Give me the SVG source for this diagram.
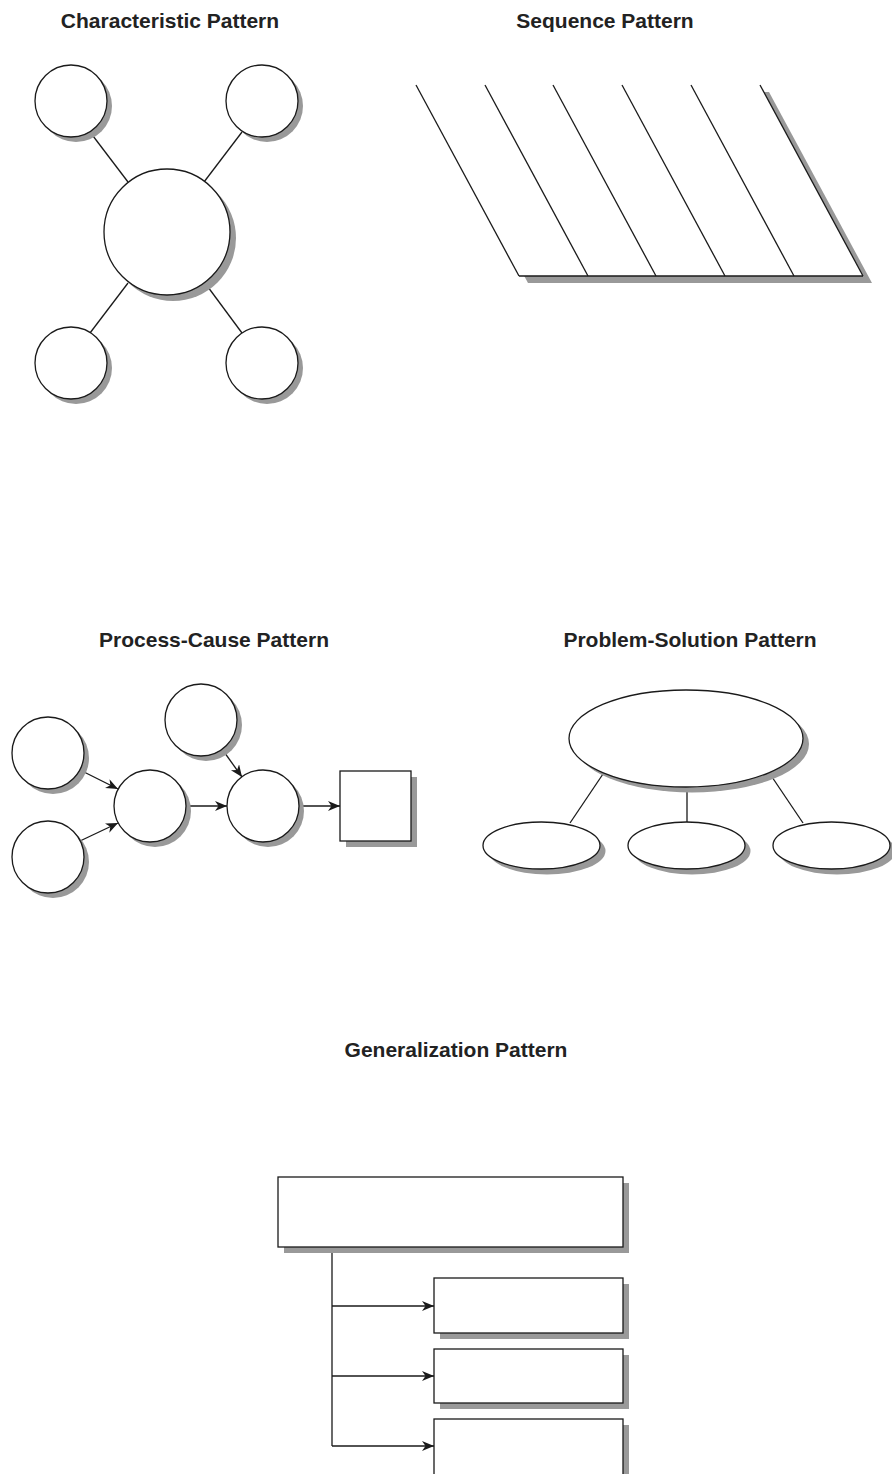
<svg xmlns="http://www.w3.org/2000/svg" width="892" height="1474" viewBox="0 0 892 1474">
  <style>
    .title { font-family: "Liberation Sans", Arial, sans-serif; font-weight: bold; font-size: 21px; fill: #222; text-anchor: middle; }
    .shape { fill: #fff; stroke: #1a1a1a; stroke-width: 1.3; }
    .shadow { fill: #999; stroke: none; }
    .link { fill: none; stroke: #1a1a1a; stroke-width: 1.3; }
    .arrow { fill: none; stroke: #1a1a1a; stroke-width: 1.3; marker-end: url(#head); }
  </style>
  <defs>
    <marker id="head" markerUnits="userSpaceOnUse" markerWidth="14" markerHeight="12" refX="12" refY="5" orient="auto">
      <path d="M0,0 L12,5 L0,10 L3.5,5 z" fill="#1a1a1a"/>
    </marker>
  </defs>

  <rect width="892" height="1474" fill="#fff"/>

  <!-- titles -->
  <text class="title" x="170" y="28">Characteristic Pattern</text>
  <text class="title" x="605" y="28">Sequence Pattern</text>
  <text class="title" x="214" y="647">Process-Cause Pattern</text>
  <text class="title" x="690" y="647">Problem-Solution Pattern</text>
  <text class="title" x="456" y="1057">Generalization Pattern</text>

  <!-- connectors -->
  <g id="connectors">
    <!-- characteristic spokes -->
    <line class="link" x1="90" y1="132" x2="128" y2="182"/>
    <line class="link" x1="242" y1="132" x2="204" y2="182"/>
    <line class="link" x1="128" y1="283" x2="90" y2="333"/>
    <line class="link" x1="205" y1="283" x2="242" y2="333"/>
    <!-- process-cause arrows -->
    <line class="arrow" x1="80" y1="770" x2="118" y2="789"/>
    <line class="arrow" x1="80" y1="841" x2="118" y2="823"/>
    <line class="arrow" x1="186" y1="806" x2="227" y2="806"/>
    <line class="arrow" x1="222" y1="749" x2="242" y2="777"/>
    <line class="arrow" x1="299" y1="806" x2="340" y2="806"/>
    <!-- problem-solution links -->
    <line class="link" x1="603" y1="774" x2="570" y2="823"/>
    <line class="link" x1="687" y1="787" x2="687" y2="822"/>
    <line class="link" x1="770" y1="774" x2="803" y2="823"/>
    <!-- generalization tree -->
    <polyline class="link" points="332,1247 332,1446"/>
    <line class="arrow" x1="332" y1="1306" x2="434" y2="1306"/>
    <line class="arrow" x1="332" y1="1376" x2="434" y2="1376"/>
    <line class="arrow" x1="332" y1="1446" x2="434" y2="1446"/>
  </g>

  <!-- characteristic pattern -->
  <g id="char-center">
    <circle class="shadow" cx="173" cy="238" r="63"/>
    <circle class="shape" cx="167" cy="232" r="63"/>
  </g>
  <g id="char-top-left">
    <circle class="shadow" cx="76" cy="106" r="36"/>
    <circle class="shape" cx="71" cy="101" r="36"/>
  </g>
  <g id="char-top-right">
    <circle class="shadow" cx="267" cy="106" r="36"/>
    <circle class="shape" cx="262" cy="101" r="36"/>
  </g>
  <g id="char-bottom-left">
    <circle class="shadow" cx="76" cy="368" r="36"/>
    <circle class="shape" cx="71" cy="363" r="36"/>
  </g>
  <g id="char-bottom-right">
    <circle class="shadow" cx="267" cy="368" r="36"/>
    <circle class="shape" cx="262" cy="363" r="36"/>
  </g>

  <!-- sequence pattern -->
  <g id="sequence">
    <polygon class="shadow" points="425,92 769,92 872,283 528,283"/>
    <polygon points="416,85 760,85 863,276 519,276" fill="#fff"/>
    <line class="link" x1="416" y1="85" x2="519" y2="276"/>
    <line class="link" x1="485" y1="85" x2="588" y2="276"/>
    <line class="link" x1="553" y1="85" x2="656" y2="276"/>
    <line class="link" x1="622" y1="85" x2="725" y2="276"/>
    <line class="link" x1="691" y1="85" x2="794" y2="276"/>
    <line class="link" x1="760" y1="85" x2="863" y2="276"/>
    <line class="link" x1="519" y1="276" x2="863" y2="276"/>
  </g>

  <!-- process-cause pattern -->
  <g id="cause-a">
    <circle class="shadow" cx="53" cy="758" r="36"/>
    <circle class="shape" cx="48" cy="753" r="36"/>
  </g>
  <g id="cause-b">
    <circle class="shadow" cx="53" cy="862" r="36"/>
    <circle class="shape" cx="48" cy="857" r="36"/>
  </g>
  <g id="process-1">
    <circle class="shadow" cx="155" cy="811" r="36"/>
    <circle class="shape" cx="150" cy="806" r="36"/>
  </g>
  <g id="cause-c">
    <circle class="shadow" cx="206" cy="725" r="36"/>
    <circle class="shape" cx="201" cy="720" r="36"/>
  </g>
  <g id="process-2">
    <circle class="shadow" cx="268" cy="811" r="36"/>
    <circle class="shape" cx="263" cy="806" r="36"/>
  </g>
  <g id="result">
    <rect class="shadow" x="346" y="777" width="71" height="70"/>
    <rect class="shape" x="340" y="771" width="71" height="70"/>
  </g>

  <!-- problem-solution pattern -->
  <g id="problem">
    <ellipse class="shadow" cx="692" cy="744" rx="117" ry="48.5"/>
    <ellipse class="shape" cx="686" cy="738.5" rx="117" ry="48.5"/>
  </g>
  <g id="solution-1">
    <ellipse class="shadow" cx="547" cy="851" rx="58.5" ry="23.5"/>
    <ellipse class="shape" cx="541.5" cy="845.5" rx="58.5" ry="23.5"/>
  </g>
  <g id="solution-2">
    <ellipse class="shadow" cx="692" cy="851" rx="58.5" ry="23.5"/>
    <ellipse class="shape" cx="686.5" cy="845.5" rx="58.5" ry="23.5"/>
  </g>
  <g id="solution-3">
    <ellipse class="shadow" cx="837" cy="851" rx="58.5" ry="23.5"/>
    <ellipse class="shape" cx="831.5" cy="845.5" rx="58.5" ry="23.5"/>
  </g>

  <!-- generalization pattern -->
  <g id="general">
    <rect class="shadow" x="284" y="1183" width="345" height="70"/>
    <rect class="shape" x="278" y="1177" width="345" height="70"/>
  </g>
  <g id="specific-1">
    <rect class="shadow" x="440" y="1284" width="189" height="55"/>
    <rect class="shape" x="434" y="1278" width="189" height="55"/>
  </g>
  <g id="specific-2">
    <rect class="shadow" x="440" y="1355" width="189" height="54"/>
    <rect class="shape" x="434" y="1349" width="189" height="54"/>
  </g>
  <g id="specific-3">
    <rect class="shadow" x="440" y="1425" width="189" height="60"/>
    <rect class="shape" x="434" y="1419" width="189" height="60"/>
  </g>
</svg>
